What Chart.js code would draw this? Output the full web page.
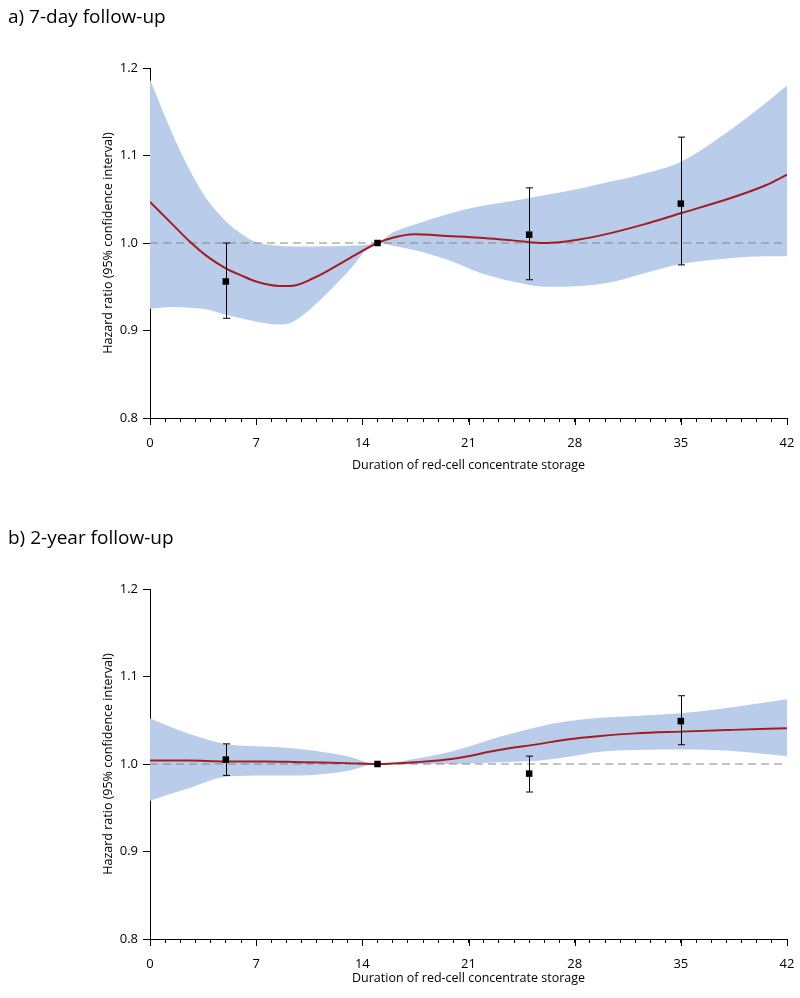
<!DOCTYPE html>
<html>
<head>
<meta charset="utf-8">
<script src="https://cdn.jsdelivr.net/npm/chart.js@4"></script>
<style>
  body { margin: 0; background: #fff; overflow: hidden; }
  .box { position: relative; width: 800px; }
</style>
</head>
<body>
<div class="box" style="height:521px"><canvas id="chartA"></canvas></div>
<div class="box" style="height:477px"><canvas id="chartB"></canvas></div>
<script>
// days of storage (x) and hazard ratios
const daysA  = [0, 1.5, 2.6, 3.75, 5, 6, 7, 8.5, 9.3, 10.8, 13, 15, 16, 17.4, 19.6, 21.75, 23.9, 26.1, 28.3, 30.3, 32.5, 35, 38.4, 40.6, 42];
const fitA   = [1.047, 1.021, 1.002, 0.985, 0.971, 0.963, 0.956, 0.951, 0.951, 0.960, 0.981, 1.000, 1.006, 1.010, 1.008, 1.006, 1.003, 1.000, 1.004, 1.011, 1.021, 1.034, 1.052, 1.066, 1.078];
const upperA = [1.187, 1.124, 1.084, 1.050, 1.025, 1.011, 1.001, 0.997, 0.996, 0.996, 0.997, 1.000, 1.012, 1.021, 1.033, 1.042, 1.048, 1.055, 1.062, 1.070, 1.079, 1.093, 1.131, 1.160, 1.180];
const lowerA = [0.925, 0.927, 0.926, 0.924, 0.918, 0.914, 0.910, 0.907, 0.909, 0.928, 0.966, 1.000, 0.997, 0.992, 0.981, 0.966, 0.956, 0.950, 0.951, 0.955, 0.965, 0.976, 0.983, 0.985, 0.985];

const daysB  = [0, 2.5, 5, 7.5, 10, 13, 15, 17.5, 20, 23, 25.7, 27.5, 29.7, 32, 35, 38.4, 42];
const fitB   = [1.004, 1.004, 1.003, 1.003, 1.002, 1.001, 1.000, 1.002, 1.006, 1.016, 1.023, 1.028, 1.032, 1.035, 1.037, 1.039, 1.041];
const upperB = [1.052, 1.035, 1.023, 1.020, 1.017, 1.009, 1.000, 1.006, 1.015, 1.031, 1.043, 1.049, 1.053, 1.055, 1.058, 1.065, 1.074];
const lowerB = [0.958, 0.972, 0.9855, 0.987, 0.987, 0.992, 1.000, 1.000, 1.000, 1.002, 1.004, 1.008, 1.014, 1.016, 1.0165, 1.015, 1.009];

// categorical estimates with 95% CI
const pointDays = [5, 15, 25, 35];
const hrA = [0.956, 1.000, 1.0095, 1.045];
const loA = [0.914, 1.000, 0.958, 0.975];
const hiA = [1.000, 1.000, 1.063, 1.121];
const hrB = [1.005, 1.000, 0.989, 1.049];
const loB = [0.987, 1.000, 0.968, 1.022];
const hiB = [1.023, 1.000, 1.009, 1.078];

const yTicks = [0.8, 0.9, 1.0, 1.1, 1.2];
const xLabelEvery = 7;

Chart.defaults.font.family = "'Open Sans', 'Liberation Sans', sans-serif";
Chart.defaults.color = '#000';

// vertical error bars under the square markers
const errorBars = {
  id: 'errorBars',
  beforeDatasetDraw(chart, args) {
    const ds = chart.data.datasets[args.index];
    if (!ds.errLo) return;
    const xs = chart.scales.x, ys = chart.scales.y, ctx = chart.ctx;
    ctx.save();
    ctx.strokeStyle = '#000';
    ctx.lineWidth = 1;
    ds.errLo.forEach(function (lo, i) {
      const hi = ds.errHi[i];
      if (hi === lo) return;
      const px = Math.round(xs.getPixelForValue(ds.data[i].x)) + 0.5;
      const y1 = ys.getPixelForValue(lo), y2 = ys.getPixelForValue(hi);
      ctx.beginPath();
      ctx.moveTo(px, y1); ctx.lineTo(px, y2);
      ctx.moveTo(px - 3.5, y1); ctx.lineTo(px + 3.5, y1);
      ctx.moveTo(px - 3.5, y2); ctx.lineTo(px + 3.5, y2);
      ctx.stroke();
    });
    ctx.restore();
  }
};

// longer tick marks on the labelled days
const majorTicks = {
  id: 'majorTicks',
  afterDraw(chart) {
    const xs = chart.scales.x, ctx = chart.ctx;
    ctx.save();
    ctx.strokeStyle = '#000';
    ctx.lineWidth = 1;
    ctx.beginPath();
    for (let d = 0; d <= 42; d += xLabelEvery) {
      const px = Math.round(xs.getPixelForValue(d)) + 0.5;
      ctx.moveTo(px, xs.top);
      ctx.lineTo(px, xs.top + 7);
    }
    ctx.stroke();
    ctx.restore();
  }
};

function pts(xs, ys) {
  return xs.map(function (x, i) { return {x: x, y: ys[i]}; });
}

function makeChart(id, title, days, fit, upper, lower, hr, lo, hi, xTitleBottom, boxH) {
  return new Chart(document.getElementById(id), {
    type: 'line',
    data: {
      datasets: [
        { data: pts(days, lower), borderWidth: 0, pointRadius: 0, fill: false,
          cubicInterpolationMode: 'monotone', order: 5 },
        { data: pts(days, upper), borderWidth: 0, pointRadius: 0, fill: 0,
          backgroundColor: '#b9cdeb', cubicInterpolationMode: 'monotone', order: 4 },
        { data: [{x: 0, y: 1}, {x: 42, y: 1}], borderColor: '#858585', borderWidth: 1.2,
          borderDash: [8, 5], pointRadius: 0, fill: false, order: 3 },
        { data: pts(days, fit), borderColor: '#a31c24', borderWidth: 2, pointRadius: 0,
          fill: false, cubicInterpolationMode: 'monotone', order: 2 },
        { data: pts(pointDays, hr), showLine: false, pointStyle: 'rect', pointRadius: 4.6,
          pointBackgroundColor: '#000', pointBorderWidth: 0, order: 1,
          errLo: lo, errHi: hi }
      ]
    },
    options: {
      responsive: true,
      maintainAspectRatio: false,
      animation: false,
      layout: { padding: { left: 8, right: 13, top: 0, bottom: 0 } },
      plugins: {
        legend: { display: false },
        tooltip: { enabled: false },
        title: {
          display: true, text: title, align: 'start', color: '#000',
          font: { size: 19, weight: 'normal', lineHeight: 1.2 },
          padding: { top: 6, bottom: 68 - 6 - 22.8 }
        }
      },
      scales: {
        x: {
          type: 'linear', min: 0, max: 42,
          afterFit: function (s) { s.height = boxH - 418; s.paddingRight = 0; },
          grid: { drawOnChartArea: false, color: '#000', tickLength: 4 },
          border: { color: '#000', width: 1 },
          ticks: {
            stepSize: 1, autoSkip: false, maxRotation: 0, padding: 13,
            font: { size: 13 },
            callback: function (v) { return v % xLabelEvery === 0 ? String(v) : ''; }
          },
          title: {
            display: true, text: 'Duration of red-cell concentrate storage',
            font: { size: 12.5 }, padding: { top: 0, bottom: xTitleBottom }
          }
        },
        y: {
          type: 'linear', min: 0.8, max: 1.2,
          afterFit: function (s) { s.width = 142; },
          afterBuildTicks: function (s) { s.ticks = yTicks.map(function (v) { return {value: v}; }); },
          grid: { drawOnChartArea: false, color: '#000', tickLength: 7 },
          border: { color: '#000', width: 1 },
          ticks: { padding: 5, font: { size: 13 },
            callback: function (v) { return v.toFixed(1); } },
          title: {
            display: true, text: 'Hazard ratio (95% confidence interval)',
            font: { size: 12.5 }, padding: { top: 93, bottom: 0 }
          }
        }
      }
    },
    plugins: [errorBars, majorTicks]
  });
}

makeChart('chartA', 'a) 7-day follow-up', daysA, fitA, upperA, lowerA, hrA, loA, hiA, 48, 521);
makeChart('chartB', 'b) 2-year follow-up', daysB, fitB, upperB, lowerB, hrB, loB, hiB, 12, 477);
</script>
</body>
</html>
